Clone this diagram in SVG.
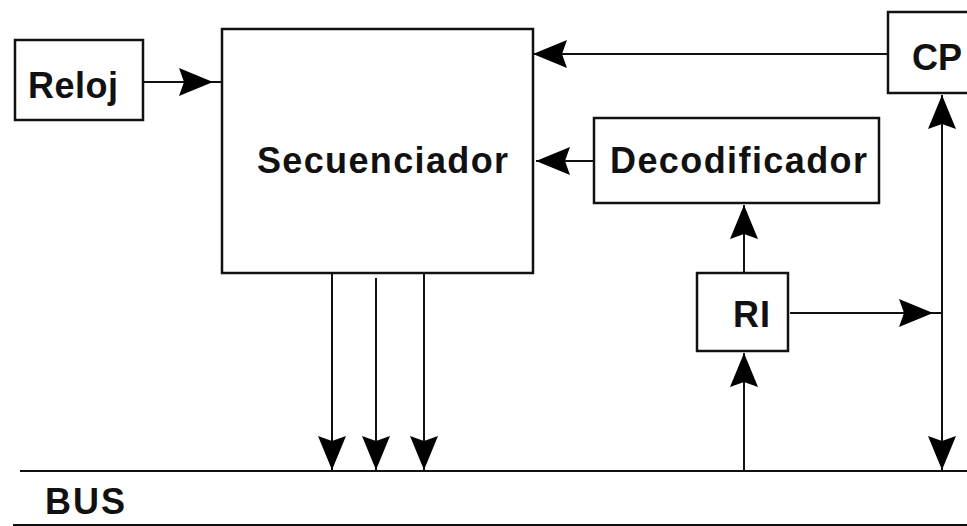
<svg xmlns="http://www.w3.org/2000/svg" width="967" height="526" viewBox="0 0 967 526">
<style>
.box{fill:#fff;stroke:#111;stroke-width:2.5}
.ln{fill:none;stroke:#111;stroke-width:2}
.lbl{font-family:"Liberation Sans",Arial,sans-serif;font-weight:bold;font-size:36px;fill:#111}
</style>
<defs>
<marker id="ah" viewBox="-36 -16 38 32" markerWidth="38" markerHeight="32" refX="0" refY="0" markerUnits="userSpaceOnUse" orient="auto-start-reverse">
<path d="M0,0 L-34,-14 L-29,0 L-34,14 Z" fill="#000"/>
</marker>
</defs>
<rect width="967" height="526" fill="#fff"/>
<g id="connectors">
<path class="ln" d="M143,82 H213 H222" marker-mid="url(#ah)"/>
<path class="ln" d="M888,54 H533" marker-end="url(#ah)"/>
<path class="ln" d="M594,161 H536" marker-end="url(#ah)"/>
<path class="ln" d="M744,273 V205" marker-end="url(#ah)"/>
<path class="ln" d="M744,471 V353" marker-end="url(#ah)"/>
<path class="ln" d="M790,313 H933 H942" marker-mid="url(#ah)"/>
<path class="ln" d="M942,95 V470" marker-start="url(#ah)" marker-end="url(#ah)"/>
<path class="ln" d="M332,273 V470" marker-end="url(#ah)"/>
<path class="ln" d="M376,278 V470" marker-end="url(#ah)"/>
<path class="ln" d="M424,273 V470" marker-end="url(#ah)"/>
</g>
<g id="bus">
<line class="ln" x1="20" y1="471" x2="967" y2="471"/>
<line class="ln" x1="13" y1="525" x2="967" y2="525"/>
<text class="lbl" x="45" y="514" textLength="80" lengthAdjust="spacing">BUS</text>
</g>
<g id="reloj">
<rect class="box" x="15" y="40" width="128" height="80"/>
<text class="lbl" x="28" y="98" textLength="90" lengthAdjust="spacing">Reloj</text>
</g>
<g id="secuenciador">
<rect class="box" x="222" y="29" width="311" height="244" style="fill:none"/>
<text class="lbl" x="257" y="173" textLength="251" lengthAdjust="spacing">Secuenciador</text>
</g>
<g id="cp">
<rect class="box" x="888" y="12" width="90" height="81"/>
<text class="lbl" x="912" y="70" textLength="50" lengthAdjust="spacing">CP</text>
</g>
<g id="decodificador">
<rect class="box" x="594" y="118" width="285" height="85"/>
<text class="lbl" x="610" y="173" textLength="257" lengthAdjust="spacing">Decodificador</text>
</g>
<g id="ri">
<rect class="box" x="697" y="273" width="91" height="78"/>
<text class="lbl" x="733" y="327" textLength="37" lengthAdjust="spacing">RI</text>
</g>
</svg>
